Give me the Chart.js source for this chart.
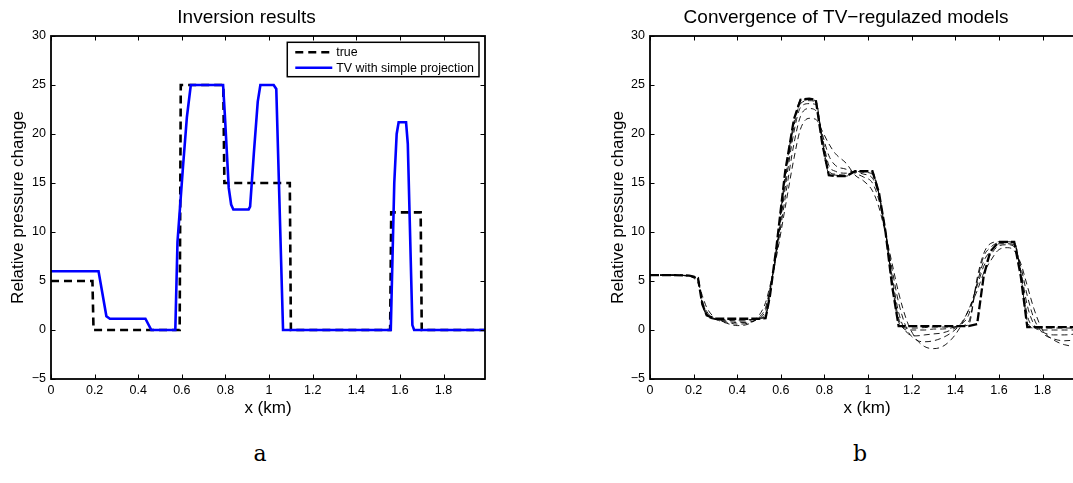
<!DOCTYPE html>
<html>
<head>
<meta charset="utf-8">
<script src="https://cdn.jsdelivr.net/npm/chart.js@4.4.1/dist/chart.umd.min.js"></script>
<style>
  html, body { margin: 0; padding: 0; background: #fff; }
  #page { position: relative; width: 1073px; height: 483px; overflow: hidden; background: #fff; }
  #chartA { position: absolute; left: 0; top: 0; }
  #chartB { position: absolute; left: 598px; top: 0; }
  .sub { position: absolute; top: 443px; width: 40px; text-align: center;
         font-family: "DejaVu Serif", "Liberation Serif", serif; font-size: 22px; line-height: 22px; }
</style>
</head>
<body>
<div id="page">
  <canvas id="chartA" width="500" height="419"></canvas>
  <canvas id="chartB" width="501" height="419"></canvas>
  <div class="sub" style="left:240px">a</div>
  <div class="sub" style="left:840px">b</div>
</div>
<script>
// axis ticks (both panels)
const xTicks = [0, 0.2, 0.4, 0.6, 0.8, 1, 1.2, 1.4, 1.6, 1.8];
const yTicks = [-5, 0, 5, 10, 15, 20, 25, 30];

// panel a: true model
const trueX = [0, 0.19, 0.195, 0.59, 0.595, 0.79, 0.795, 1.095, 1.1, 1.555, 1.56, 1.695, 1.7, 1.99];
const trueY = [5, 5, 0, 0, 25, 25, 15, 15, 0, 0, 12, 12, 0, 0];

// panel a: TV with simple projection
const tvX = [0, 0.218, 0.254, 0.27, 0.433, 0.46, 0.57, 0.58, 0.605, 0.623, 0.641, 0.789, 0.797, 0.815,
             0.826, 0.836, 0.906, 0.913, 0.93, 0.948, 0.96, 1.021, 1.033, 1.064, 1.558, 1.574, 1.585,
             1.594, 1.628, 1.636, 1.657, 1.665, 1.99];
const tvY = [6, 6, 1.4, 1.15, 1.15, 0, 0, 9, 16.6, 21.7, 25, 25, 22, 14.5,
             12.8, 12.3, 12.3, 12.6, 18, 23.3, 25, 25, 24.6, 0, 0, 15, 20,
             21.2, 21.2, 19, 0.5, 0, 0];

// panel b: x grid and successive models
const convX = [0, 0.1, 0.18, 0.2, 0.22, 0.24, 0.26, 0.3, 0.35, 0.4, 0.45, 0.5, 0.53, 0.55, 0.58, 0.62,
               0.66, 0.69, 0.73, 0.76, 0.79, 0.82, 0.85, 0.9, 0.94, 0.98, 1.02, 1.05, 1.08, 1.11, 1.14,
               1.18, 1.22, 1.26, 1.3, 1.34, 1.38, 1.42, 1.46, 1.5, 1.53, 1.56, 1.6, 1.64, 1.67, 1.7,
               1.73, 1.76, 1.8, 1.85, 1.9, 1.95, 1.99];
const iter1 = [5.6, 5.6, 5.5, 5.3, 4.8, 3.5, 2.3, 1.2, 0.7, 0.45, 0.6, 1.5, 2.8, 4.5, 7.5, 12.5,
               17.5, 20.5, 21.6, 21.5, 20.3, 19, 18, 17, 15.8, 15.2, 14.2, 12.5, 9.8, 6.8, 3.8,
               0.8, -0.9, -1.7, -1.9, -1.7, -1, 0.2, 2, 4, 5.8, 7, 8.2, 8.4, 8.1, 6.8,
               4.5, 2.2, 0, -1, -1.5, -1.65, -1.5];
const iter2 = [5.6, 5.6, 5.5, 5.35, 5, 3, 1.9, 1.1, 0.8, 0.6, 0.7, 1.3, 2.3, 4.2, 7.8, 13.5,
               19, 21.8, 22.6, 22.4, 20, 17.8, 16.8, 16.4, 16, 15.6, 15, 13.2, 10, 6.2, 2.8,
               0, -1, -1.2, -1.1, -0.8, -0.3, 0.5, 2, 4.5, 6.5, 7.6, 8.6, 8.7, 8.5, 6.5,
               3.5, 1.2, -0.3, -0.9, -1.1, -1, -0.8];
const iter3 = [5.6, 5.6, 5.5, 5.4, 5.1, 2.8, 1.7, 1.1, 0.9, 0.75, 0.8, 1.2, 2, 4, 8, 14.5,
               20.2, 22.7, 23.1, 23, 19.7, 16.8, 16.2, 16, 16.1, 15.9, 15.5, 13.6, 10, 5.5, 1.8,
               -0.3, -0.6, -0.5, -0.4, -0.3, 0, 0.5, 1.5, 4.8, 7, 8, 8.8, 8.8, 8.7, 6,
               2.5, 0.6, -0.2, -0.5, -0.5, -0.4, -0.2];
const iter4 = [5.6, 5.6, 5.5, 5.4, 5.2, 2.7, 1.6, 1.1, 1, 0.9, 0.95, 1.2, 1.6, 3.8, 8.2, 15.2,
               20.8, 23.1, 23.4, 23.3, 19.3, 16.2, 15.9, 15.8, 16.2, 16.1, 15.9, 13.8, 10, 5, 1.2,
               0, 0, 0, 0.1, 0.1, 0.2, 0.4, 0.8, 5, 7.5, 8.4, 8.9, 8.9, 8.9, 5.8,
               1.5, 0.3, 0, 0, 0, 0, 0.1];
const iter5 = [5.6, 5.6, 5.55, 5.45, 5.25, 2.6, 1.5, 1.1, 1.05, 1, 1.05, 1.15, 1.4, 3.6, 8.4, 15.8,
               21.2, 23.4, 23.5, 23.4, 19.1, 16, 15.8, 15.7, 16.2, 16.2, 16.1, 13.9, 10, 4.8, 0.8,
               0.2, 0.2, 0.25, 0.3, 0.3, 0.3, 0.4, 0.5, 5.3, 7.8, 8.8, 9, 9, 9, 5.6,
               0.9, 0.2, 0.2, 0.2, 0.2, 0.2, 0.3];
const finalModel = [5.6, 5.6, 5.55, 5.45, 5.3, 2.6, 1.5, 1.15, 1.15, 1.15, 1.15, 1.15, 1.2, 3.5, 8.5, 16.2,
               21.5, 23.5, 23.6, 23.5, 19, 15.8, 15.7, 15.7, 16.2, 16.2, 16.2, 14, 10, 4.5, 0.4,
               0.4, 0.4, 0.4, 0.4, 0.4, 0.4, 0.4, 0.4, 0.6, 5.5, 8, 9, 9, 9, 5.5,
               0.3, 0.3, 0.3, 0.3, 0.3, 0.3, 0.4];

const FONT = '"Liberation Sans", Arial, Helvetica, sans-serif';
Chart.defaults.font.family = FONT;
Chart.defaults.color = '#000';

function pts(xs, ys) {
  return xs.map((x, i) => ({ x: x, y: ys[i] }));
}

// axes box with inward ticks, like the original figure
const boxPlugin = {
  id: 'boxPlugin',
  afterDatasetsDraw(chart) {
    const { ctx, chartArea: a, scales } = chart;
    ctx.save();
    ctx.strokeStyle = '#000';
    ctx.lineWidth = 1;
    ctx.beginPath();
    xTicks.forEach(v => {
      const px = Math.round(scales.x.getPixelForValue(v)) + 0.5;
      ctx.moveTo(px, a.bottom); ctx.lineTo(px, a.bottom - 4.5);
      ctx.moveTo(px, a.top); ctx.lineTo(px, a.top + 4.5);
    });
    yTicks.forEach(v => {
      const py = Math.round(scales.y.getPixelForValue(v)) + 0.5;
      ctx.moveTo(a.left, py); ctx.lineTo(a.left + 4.5, py);
      ctx.moveTo(a.right, py); ctx.lineTo(a.right - 4.5, py);
    });
    ctx.stroke();
    ctx.lineWidth = 1.8;
    ctx.strokeRect(a.left, a.top, a.right - a.left, a.bottom - a.top);
    ctx.restore();
  }
};

// boxed legend in the upper right corner of panel a
const legendPlugin = {
  id: 'legendPlugin',
  afterDraw(chart) {
    const { ctx, chartArea: a } = chart;
    const items = chart.data.datasets.slice().sort((p, q) => q.order - p.order);
    ctx.save();
    ctx.font = '12.4px ' + FONT;
    const tw = Math.max(...items.map(d => ctx.measureText(d.label).width));
    const w = 8 + 37 + 4 + tw + 5, h = 34.4;
    const bx = a.right - 6 - w, by = a.top + 6.3;
    ctx.fillStyle = '#fff';
    ctx.fillRect(bx, by, w, h);
    ctx.strokeStyle = '#000';
    ctx.lineWidth = 1.5;
    ctx.strokeRect(bx, by, w, h);
    items.forEach((d, i) => {
      const yy = by + 10 + i * 15.4;
      ctx.beginPath();
      ctx.setLineDash(d.borderDash || []);
      ctx.strokeStyle = d.borderColor;
      ctx.lineWidth = d.borderWidth;
      ctx.moveTo(bx + 8, yy);
      ctx.lineTo(bx + 45, yy);
      ctx.stroke();
      ctx.setLineDash([]);
      ctx.fillStyle = '#000';
      ctx.textBaseline = 'middle';
      ctx.fillText(d.label, bx + 49, yy + 0.5);
    });
    ctx.restore();
  }
};

function axes(padLeft) {
  return {
    x: {
      type: 'linear', min: 0, max: 1.99,
      grid: { display: false, drawTicks: false },
      border: { display: false },
      ticks: { padding: 4, autoSkip: false, maxRotation: 0, font: { size: 12.5 },
               callback: v => String(Number(v.toFixed(1))) },
      afterBuildTicks: s => { s.ticks = xTicks.map(v => ({ value: v })); },
      afterFit: s => { s.height = 40; },
      title: { display: true, text: 'x (km)', font: { size: 17 }, padding: 0 }
    },
    y: {
      min: -5, max: 30,
      grid: { display: false, drawTicks: false },
      border: { display: false },
      ticks: { padding: 5, font: { size: 12.5 },
               callback: v => String(v).replace('-', '\u2212') },
      afterBuildTicks: s => { s.ticks = yTicks.map(v => ({ value: v })); },
      afterFit: s => { s.width = padLeft; },
      title: { display: true, text: 'Relative pressure change', font: { size: 17 }, padding: 0 }
    }
  };
}

function titleOpt(text) {
  return { display: true, text: text, font: { size: 19, weight: 'normal' },
           padding: { top: 6.6, bottom: 6.6 } };
}

new Chart(document.getElementById('chartA').getContext('2d'), {
  type: 'line',
  data: {
    datasets: [
      { label: 'true', data: pts(trueX, trueY), order: 1,
        borderColor: '#000', borderWidth: 2.6, borderDash: [8, 5], pointRadius: 0, tension: 0 },
      { label: 'TV with simple projection', data: pts(tvX, tvY), order: 0,
        borderColor: '#0000ff', borderWidth: 2.6, pointRadius: 0, tension: 0 }
    ]
  },
  options: {
    responsive: false, animation: false, devicePixelRatio: 1,
    layout: { padding: { left: 8, right: 15, top: 0, bottom: 0 } },
    plugins: { legend: { display: false }, tooltip: { enabled: false }, title: titleOpt('Inversion results') },
    scales: axes(43)
  },
  plugins: [boxPlugin, legendPlugin]
});

const thin = (data) => ({ data: data, borderColor: '#000', borderWidth: 0.9, borderDash: [6, 4],
                          pointRadius: 0, cubicInterpolationMode: 'monotone' });

new Chart(document.getElementById('chartB').getContext('2d'), {
  type: 'line',
  data: {
    datasets: [
      { label: 'final', data: pts(convX, finalModel), borderColor: '#000', borderWidth: 2.3,
        borderDash: [9, 3], pointRadius: 0, tension: 0, order: 0 },
      Object.assign({ label: 'iteration 5', order: 1 }, thin(pts(convX, iter5))),
      Object.assign({ label: 'iteration 4', order: 2 }, thin(pts(convX, iter4))),
      Object.assign({ label: 'iteration 3', order: 3 }, thin(pts(convX, iter3))),
      Object.assign({ label: 'iteration 2', order: 4 }, thin(pts(convX, iter2))),
      Object.assign({ label: 'iteration 1', order: 5 }, thin(pts(convX, iter1)))
    ]
  },
  options: {
    responsive: false, animation: false, devicePixelRatio: 1,
    layout: { padding: { left: 10, right: 15, top: 0, bottom: 0 } },
    plugins: { legend: { display: false }, tooltip: { enabled: false },
               title: titleOpt('Convergence of TV\u2212regulazed models') },
    scales: axes(42)
  },
  plugins: [boxPlugin]
});
</script>
</body>
</html>
